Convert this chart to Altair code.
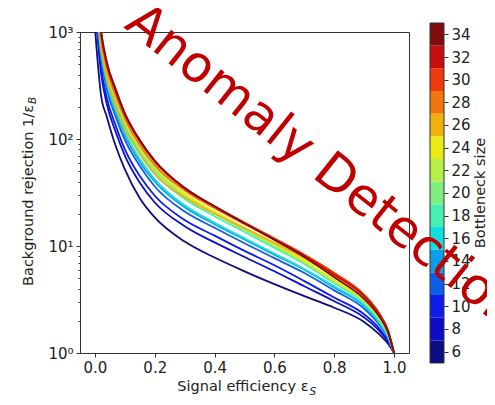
import altair as alt
import pandas as pd

# Signal efficiency grid shared by all curves
EPS = [0.0, 0.02, 0.04, 0.07, 0.1, 0.15, 0.2, 0.3, 0.4, 0.5, 0.6, 0.7, 0.8, 0.9, 0.95, 0.98, 1.0]

# Background rejection 1/eps_B per bottleneck size
s6 = [1100, 260, 160, 85, 52, 28, 18.5, 11, 7.8, 5.8, 4.4, 3.4, 2.65, 1.95, 1.5, 1.22, 1.0]
s8 = [1800, 420, 210, 115, 70, 39, 25.5, 15.3, 10.8, 7.9, 5.8, 4.2, 3.05, 2.15, 1.62, 1.27, 1.0]
s10 = [2000, 480, 240, 132, 80, 45, 29.5, 17.5, 12.5, 9.0, 6.6, 4.7, 3.3, 2.3, 1.7, 1.3, 1.0]
s12 = [2000, 580, 290, 160, 98, 56, 36, 21, 14.8, 10.6, 7.7, 5.6, 3.85, 2.6, 1.85, 1.37, 1.0]
s14 = [2500, 640, 320, 175, 108, 61, 40, 23, 16, 11.5, 8.3, 6.0, 4.1, 2.75, 1.92, 1.4, 1.0]
s16 = [2500, 680, 340, 185, 115, 65, 42, 24, 16.5, 11.8, 8.5, 6.1, 4.2, 2.8, 1.95, 1.42, 1.0]
s18 = [3000, 780, 390, 215, 132, 75, 48, 27.5, 19, 13.5, 9.6, 6.8, 4.5, 2.95, 2.05, 1.48, 1.0]
s20 = [3000, 830, 410, 230, 141, 80, 51, 29, 20, 14.1, 10.0, 7.0, 4.6, 3.0, 2.1, 1.5, 1.0]
s22 = [3500, 860, 430, 240, 147, 83, 53, 30, 20.5, 14.4, 10.2, 7.1, 4.7, 3.05, 2.12, 1.52, 1.0]
s24 = [3500, 880, 440, 245, 150, 85, 55, 31, 21, 14.8, 10.5, 7.3, 4.8, 3.1, 2.15, 1.53, 1.0]
s26 = [3000, 750, 370, 200, 125, 72, 47, 28.5, 20, 14.7, 10.7, 7.7, 5.25, 3.35, 2.25, 1.58, 1.0]
s28 = [3500, 900, 450, 250, 155, 88, 57, 33, 22.5, 16, 11.6, 8.3, 5.6, 3.5, 2.35, 1.62, 1.0]
s30 = [4000, 980, 490, 275, 168, 95, 61, 34.5, 23.5, 16.6, 11.8, 8.3, 5.6, 3.5, 2.35, 1.62, 1.0]
s32 = [4000, 1000, 500, 280, 170, 96, 62, 34.5, 23.3, 16.3, 11.5, 8.1, 5.4, 3.4, 2.3, 1.6, 1.0]
s34 = [4000, 1050, 520, 290, 175, 98, 63, 35, 23.5, 16.3, 11.4, 7.9, 5.1, 3.2, 2.2, 1.55, 1.0]

SIZES = [6, 8, 10, 12, 14, 16, 18, 20, 22, 24, 26, 28, 30, 32, 34]
SERIES = [s6, s8, s10, s12, s14, s16, s18, s20, s22, s24, s26, s28, s30, s32, s34]
COLORS = ["#0d0d80", "#0d0dc7", "#0d1ce8", "#0d5ee8", "#0d9ee8", "#12e0e0", "#47f0ae",
          "#7ff07f", "#b4f047", "#ebea12", "#f0b10d", "#f0760d", "#f03a0d", "#c70d0d", "#800d0d"]

XTICKS = [0.0, 0.2, 0.4, 0.6, 0.8, 1.0]
YTICKS = [1, 2, 3, 4, 5, 6, 7, 8, 9, 10, 20, 30, 40, 50, 60, 70, 80, 90,
          100, 200, 300, 400, 500, 600, 700, 800, 900, 1000]

rows = []
for size, vals in zip(SIZES, SERIES):
    for e, v in zip(EPS, vals):
        rows.append({"size": size, "eps": e, "rej": v})
df = pd.DataFrame(rows)

FONT = "DejaVu Sans"
TXT = "#222222"

xsc = alt.Scale(domain=[-0.05, 1.05], nice=False, zero=False)
ysc = alt.Scale(type="log", domain=[1, 1000], nice=False)
col = alt.Scale(domain=SIZES, range=COLORS)

lines = alt.Chart(df).mark_line(clip=True, strokeWidth=1.8, interpolate="monotone").encode(
    x=alt.X("eps:Q", scale=xsc,
            axis=alt.Axis(values=XTICKS, format=".1f", title="", tickSize=4, labelPadding=3)),
    y=alt.Y("rej:Q", scale=ysc,
            axis=alt.Axis(values=YTICKS, title="", labelPadding=3,
                          labelExpr="datum.value == 1 ? '10⁰' : datum.value == 10 ? '10¹' : datum.value == 100 ? '10²' : datum.value == 1000 ? '10³' : ''",
                          tickSize={"condition": {"test": "indexof([1, 10, 100, 1000], datum.value) >= 0", "value": 4}, "value": 2})),
    color=alt.Color("size:O", scale=col, legend=None),
)

cb_df = pd.DataFrame({"size": SIZES, "lo": [s - 1 for s in SIZES], "hi": [s + 1 for s in SIZES]})
cb_out_df = pd.DataFrame({"lo": [min(SIZES) - 1], "hi": [max(SIZES) + 1]})
cbsc = alt.Scale(domain=[5.882, 34.206], nice=False, zero=False)
cb_axis = alt.Axis(orient="right", offset=35, values=SIZES, tickSize=4, domain=False,
                   labelPadding=3, title="Bottleneck size", titleAngle=270,
                   titleBaseline="top", titlePadding=3, titleFontSize=14.5)

cb_rects = alt.Chart(cb_df).mark_rect(clip=False).encode(
    x=alt.value(350), x2=alt.value(364),
    y=alt.Y("lo:Q", scale=cbsc, axis=cb_axis),
    y2="hi:Q",
    color=alt.Color("size:O", scale=col, legend=None),
)
cb_outline = alt.Chart(cb_out_df).mark_rect(clip=False, fillOpacity=0, stroke="#333333", strokeWidth=1).encode(
    x=alt.value(350), x2=alt.value(364),
    y=alt.Y("lo:Q", scale=cbsc, axis=cb_axis),
    y2="hi:Q",
)
cbar = alt.layer(cb_rects, cb_outline)


def label(s, x, y, **kw):
    return alt.Chart(pd.DataFrame({"t": [s]})).mark_text(font=FONT, **kw).encode(
        text="t:N", x=alt.value(x), y=alt.value(y))


xt_main = label("Signal efficiency ε", 228.5, 359, align="right", baseline="alphabetic", fontSize=14.5, color=TXT)
xt_sub = label("S", 229.5, 363, align="left", baseline="alphabetic", fontSize=10.5, fontStyle="italic", color=TXT)
yt_main = label("Background rejection 1/ε", -47, 73, align="right", baseline="alphabetic", angle=270, fontSize=14.5, color=TXT)
yt_sub = label("B", -44, 72, align="left", baseline="alphabetic", angle=270, fontSize=10.5, fontStyle="italic", color=TXT)
stamp = label("Anomaly Detection", 43, -5, align="left", baseline="alphabetic", angle=38.5, fontSize=51, color="#c00000")

chart = alt.layer(lines, cbar, xt_main, xt_sub, yt_main, yt_sub, stamp).resolve_scale(
    y="independent"
).properties(
    width=329, height=321,
    autosize=alt.AutoSizeParams(type="none"),
    padding={"left": 72, "top": 24, "right": 78, "bottom": 44},
    background="white",
).configure_view(
    stroke="#333333", strokeWidth=1
).configure_axis(
    grid=False, labelFont=FONT, labelFontSize=15, labelColor=TXT, tickColor="#333333",
    domainColor="#333333", titleFont=FONT, titleFontWeight="normal", titleColor=TXT,
)

chart.save("out.html", embed_options={"renderer": "svg", "actions": False})
